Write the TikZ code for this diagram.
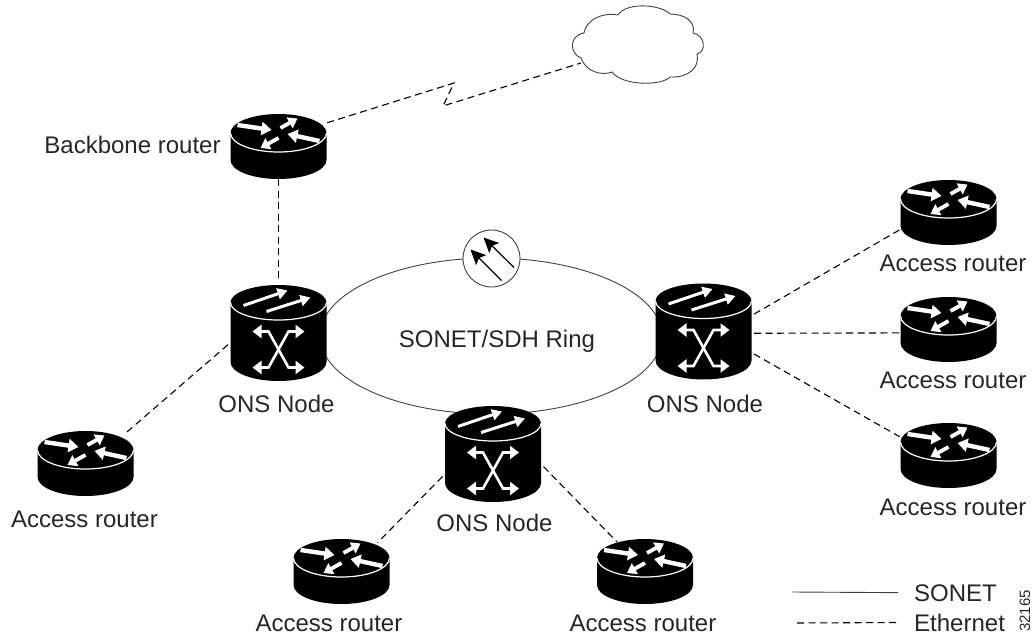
\documentclass[tikz,border=0pt]{standalone}
\usepackage{fontspec}
\setmainfont{Liberation Sans}
\usetikzlibrary{arrows.meta,shapes.geometric}

\tikzset{
	router/.pic={
		\fill [black] (-48,0) -- (-48,27) arc [start angle=180,end angle=0,x radius=48,y radius=19] -- (48,0) arc [start angle=0,end angle=-180,x radius=48,y radius=19] -- cycle;
		\draw [rim] (-48,0) arc [start angle=180,end angle=0,x radius=48,y radius=19];
		\draw [flow] (-41,-8) -- (-7,-3);
		\draw [flowb] (2,-5) -- (19,-14.5);
		\draw [flow] (41,8) -- (9,1);
		\draw [flowb] (0,5) -- (-18,15);
	},
	onsdrum/.pic={
		\fill [black] (-48,0) -- (-48,59.5) arc [start angle=180,end angle=0,x radius=48,y radius=19] -- (48,0) arc [start angle=0,end angle=-180,x radius=48,y radius=17.5] -- cycle;
		\draw [rim] (-48,0) arc [start angle=180,end angle=0,x radius=48,y radius=17.5];
		\draw [lift] (-35,3) -- (9,-12);
		\draw [lift] (-12,9) -- (32,-5);
		\draw [cross] (-26,29) -- (-10,29) -- (10,65) -- (26,65);
		\draw [cross] (-26,65) -- (-10,65) -- (10,29) -- (26,29);
	}
}

\begin{document}
\begin{tikzpicture}[x=1pt,y=-1pt]
	\tikzstyle{rim}=[white,line width=1.2pt]
	\tikzstyle{flow}=[white,line width=4.4pt,-{Triangle[length=10pt,width=13pt]}]
	\tikzstyle{flowb}=[white,line width=3.8pt,-{Triangle[length=9pt,width=12pt]}]
	\tikzstyle{lift}=[white,line width=3pt,-{Triangle[length=10pt,width=11pt]}]
	\tikzstyle{cross}=[white,line width=2.6pt,{Triangle[length=9pt,width=13pt]}-{Triangle[length=9pt,width=13pt]}]
	\tikzstyle{routerbox}=[rectangle,inner sep=0pt,minimum width=97pt,minimum height=65pt]
	\tikzstyle{onsbox}=[rectangle,inner sep=0pt,outer sep=2pt,minimum width=97pt,minimum height=97pt]
	\tikzstyle{lbl}=[anchor=base,inner sep=0pt,text=black!85,font=\fontsize{24}{28}\selectfont]
	\tikzstyle{ethernet}=[black,line width=1.1pt,dash pattern=on 7pt off 4.5pt]
	\tikzstyle{sonet}=[black!75,line width=0.9pt]
	\tikzstyle{lamarrow}=[black,line width=1.2pt,-{Stealth[length=15pt,width=14pt,inset=3pt]}]
	\useasboundingbox (0,0) rectangle (1034,637);
	% nodes
	\node (backbone) at (278.5,146.5) [routerbox] {};
	\node (onsleft) at (278.5,333) [onsbox] {};
	\node (onsright) at (703.5,331.5) [onsbox] {};
	\node (onsbottom) at (493,454) [onsbox] {};
	\node (accleft) at (85.5,463) [routerbox] {};
	\node (accbl) at (341.5,571) [routerbox] {};
	\node (accbr) at (645,571) [routerbox] {};
	\node (accra) at (948.5,212) [routerbox] {};
	\node (accrb) at (948.5,329.5) [routerbox] {};
	\node (accrc) at (948.5,455.5) [routerbox] {};
	\node (inet) at (637.5,45) [rectangle,inner sep=0pt,minimum width=131pt,minimum height=76pt] {};
	\coordinate (zigtop) at (454,83);
	\coordinate (zigbot) at (443,106);
	\coordinate (cloudedge) at (581,63);
	\coordinate (sonetstart) at (792,592);
	\coordinate (etherstart) at (797,623);
	% ring
	\node (ring) at (491,336) [ellipse,draw,sonet,inner sep=0pt,minimum width=342pt,minimum height=156pt] {};
	\node (lambda) at (491.5,258.5) [circle,draw,sonet,fill=white,inner sep=0pt,minimum size=57pt] {};
	\draw [lamarrow] ([shift={(10,22)}]lambda.center) -- ([shift={(-21,-9)}]lambda.center);
	\draw [lamarrow] ([shift={(22.5,9)}]lambda.center) -- ([shift={(-8,-21)}]lambda.center);
	% cloud
	\draw [sonet] (581,58) .. controls (570,54) and (568,36) .. (584,33)
		.. controls (586,20) and (602,12) .. (618,15)
		.. controls (626,2) and (660,4) .. (670,14)
		.. controls (685,14) and (696,22) .. (693,33)
		.. controls (705,35) and (707,52) .. (697,54)
		.. controls (700,68) and (688,78) .. (670,77)
		.. controls (662,86) and (622,86) .. (612,72)
		.. controls (602,76) and (586,72) .. (581,58);
	% connectors
	\draw [ethernet] (backbone.26.8) -- (zigtop) -- (zigbot) -- (cloudedge);
	\draw [ethernet] (backbone.south) -- (onsleft.north);
	\draw [ethernet,shorten >=-7pt] (onsleft.193.4) -- (accleft.37.7);
	\draw [ethernet,shorten >=-6pt] (onsbottom.204) -- (accbl.39.2);
	\draw [ethernet,shorten >=-5pt] (onsbottom.-14.4) -- (accbr.134);
	\draw [ethernet] (onsright.19.1) -- (accra.200);
	\draw [ethernet] (onsright.-2) -- (accrb.184.4);
	\draw [ethernet] (onsright.-24) -- (accrc.159);
	% icons
	\pic at (278.5,133) {router};
	\pic at (85.5,450) {router};
	\pic at (341.5,558) {router};
	\pic at (645,558) {router};
	\pic at (948.5,199) {router};
	\pic at (948.5,316) {router};
	\pic at (948.5,442) {router};
	\pic at (278.5,302.5) {onsdrum};
	\pic at (703.5,301) {onsdrum};
	\pic at (493,423.5) {onsdrum};
	% labels
	\node (lblbackbone) at (132.5,153) [lbl] {Backbone router};
	\node (lblonsl) at (276.5,412) [lbl] {ONS Node};
	\node (lblonsr) at (705,412) [lbl] {ONS Node};
	\node (lblonsb) at (494.5,531) [lbl] {ONS Node};
	\node (lblring) at (497,347) [lbl] {SONET/SDH Ring};
	\node (lblleft) at (84.5,527) [lbl] {Access router};
	\node (lblbl) at (329,631) [lbl] {Access router};
	\node (lblbr) at (643,631) [lbl] {Access router};
	\node (lblra) at (953,271) [lbl] {Access router};
	\node (lblrb) at (953,388) [lbl] {Access router};
	\node (lblrc) at (953,515) [lbl] {Access router};
	% legend
	\node (lblsonet) at (914,601) [lbl,anchor=base west] {SONET};
	\node (lblether) at (914,631) [lbl,anchor=base west] {Ethernet};
	\draw [sonet,shorten >=16pt] (sonetstart) -- (lblsonet.west);
	\draw [ethernet,shorten >=16pt] (etherstart) -- (lblether.west);
	\node (figid) at (1025,611) [inner sep=0pt,text=black!85,rotate=90,font=\fontsize{15}{17}\selectfont] {32165};
\end{tikzpicture}
\end{document}
